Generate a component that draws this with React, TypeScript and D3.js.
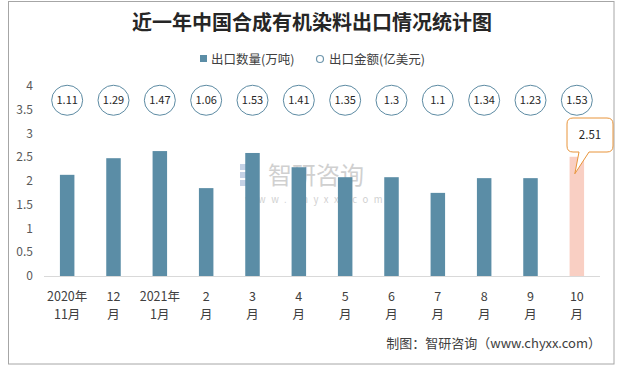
import * as d3 from "d3";

const TITLE = "近一年中国合成有机染料出口情况统计图";
const CATEGORIES_TOP = ["2020年", "12", "2021年", "2", "3", "4", "5", "6", "7", "8", "9", "10"];
const CATEGORIES_BOTTOM = ["11月", "月", "1月", "月", "月", "月", "月", "月", "月", "月", "月", "月"];
const QUANTITY = [2.13, 2.48, 2.63, 1.85, 2.59, 2.29, 2.08, 2.08, 1.75, 2.06, 2.06, 2.51];
const AMOUNT = [1.11, 1.29, 1.47, 1.06, 1.53, 1.41, 1.35, 1.3, 1.1, 1.34, 1.23, 1.53];
const Y_TICKS = [0, 0.5, 1, 1.5, 2, 2.5, 3, 3.5, 4];
const LEGEND = ["出口数量(万吨)", "出口金额(亿美元)"];
const SOURCE = "制图：智研咨询（www.chyxx.com）";

const W = 619;
const H = 367;
const BAR = "#5b8da6";
const HIGHLIGHT = "#f9cfc3";
const FONT = "'Noto Sans CJK SC', 'Noto Sans', sans-serif";

export default function App() {
  const x = d3
    .scaleBand<number>()
    .domain(d3.range(CATEGORIES_TOP.length))
    .range([44, 600]);
  const y = d3.scaleLinear().domain([0, 4]).range([276, 86]);
  const bw = 14.5;
  const last = QUANTITY.length - 1;
  const cx = (i: number) => (x(i) ?? 0) + x.bandwidth() / 2;

  // callout over the last bar
  const lx = cx(last);
  const box = { x0: 567, x1: 613, y0: 118, y1: 152 };
  const tip = { x: lx - 2, y: y(QUANTITY[last]) + 17 };
  const r = 6;
  const callout = [
    `M${box.x0 + r},${box.y0}`,
    `H${box.x1 - r}`,
    `Q${box.x1},${box.y0} ${box.x1},${box.y0 + r}`,
    `V${box.y1 - r}`,
    `Q${box.x1},${box.y1} ${box.x1 - r},${box.y1}`,
    `H${box.x0 + 22}`,
    `L${tip.x},${tip.y}`,
    `L${box.x0 + 12},${box.y1}`,
    `H${box.x0 + r}`,
    `Q${box.x0},${box.y1} ${box.x0},${box.y1 - r}`,
    `V${box.y0 + r}`,
    `Q${box.x0},${box.y0} ${box.x0 + r},${box.y0}`,
    "Z",
  ].join(" ");

  return (
    <svg
      width={W}
      height={H}
      style={{ position: "absolute", left: 0, top: 0, background: "#fff" }}
      fontFamily={FONT}
    >
      <rect x={8.5} y={1.5} width={605.5} height={362.5} fill="#fff" stroke="#a6a6a6" />
      <text x={312} y={30} textAnchor="middle" fontSize={20} fontWeight="bold" fill="#262626">
        {TITLE}
      </text>

      {/* legend */}
      <rect x={200} y={55} width={7} height={7} fill={BAR} />
      <text x={211} y={63.5} fontSize={12.5} fill="#404040">{LEGEND[0]}</text>
      <circle cx={320} cy={59} r={3.5} fill="#fff" stroke="#6f97ad" strokeWidth={1.2} />
      <text x={329} y={63.5} fontSize={12.5} fill="#404040">{LEGEND[1]}</text>

      {/* watermark */}
      <g opacity={0.4}>
        <rect x={240} y={164} width={14} height={6} fill="#6b8fc0" />
        <rect x={240} y={172} width={14} height={6} fill="#6b8fc0" />
        <rect x={240} y={180} width={14} height={6} fill="#6b8fc0" />
        <text x={268} y={184} fontSize={24} fill="#8c8c8c">智研咨询</text>
        <text x={245} y={203} fontSize={9.5} fill="#8c8c8c" letterSpacing={5.5}>www.chyxx.com</text>
      </g>

      {/* y axis labels */}
      {Y_TICKS.map((t) => (
        <text key={t} x={33} y={y(t) + 4} textAnchor="end" fontSize={12} fill="#595959">
          {t}
        </text>
      ))}

      {/* bars */}
      {QUANTITY.map((v, i) => (
        <rect
          key={i}
          x={cx(i) - bw / 2}
          y={y(v)}
          width={bw}
          height={y(0) - y(v)}
          fill={i === last ? HIGHLIGHT : BAR}
        />
      ))}
      <line x1={44} x2={600} y1={276.5} y2={276.5} stroke="#d9d9d9" />

      {/* amount bubbles */}
      {AMOUNT.map((v, i) => (
        <g key={i}>
          <ellipse cx={cx(i)} cy={y(3.7)} rx={15.5} ry={15} fill="#fff" stroke="#5d8ba3" strokeWidth={1} />
          <text x={cx(i)} y={y(3.7) + 4} textAnchor="middle" fontSize={11} fill="#262626">
            {v}
          </text>
        </g>
      ))}

      {/* callout */}
      <path d={callout} fill="#fff" stroke="#e8943a" strokeWidth={1} />
      <text x={(box.x0 + box.x1) / 2} y={139} textAnchor="middle" fontSize={11.5} fill="#262626">
        {QUANTITY[last]}
      </text>

      {/* x labels */}
      {CATEGORIES_TOP.map((c, i) => (
        <g key={i}>
          <text x={cx(i)} y={301} textAnchor="middle" fontSize={12.5} fill="#404040">{c}</text>
          <text x={cx(i)} y={319} textAnchor="middle" fontSize={12.5} fill="#404040">
            {CATEGORIES_BOTTOM[i]}
          </text>
        </g>
      ))}

      <text x={601} y={348} textAnchor="end" fontSize={13} fill="#404040">{SOURCE}</text>
    </svg>
  );
}
